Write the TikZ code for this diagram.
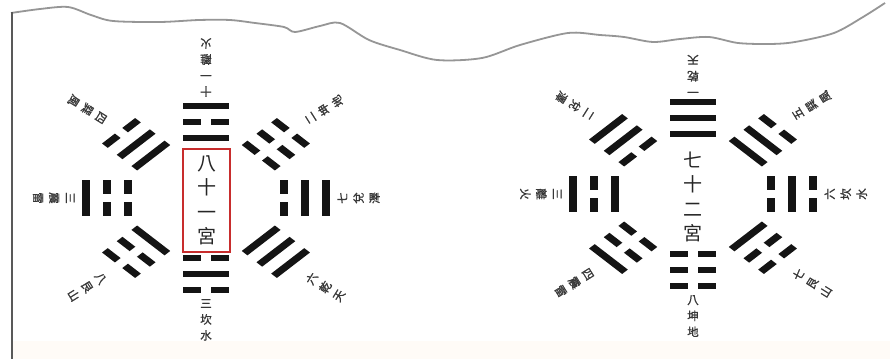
\documentclass[tikz,border=0pt]{standalone}
\usepackage{fontspec}
\newfontfamily\cjk{Noto Sans CJK TC}
\newfontfamily\cjkb[FakeBold=1.2]{Noto Sans CJK TC}
\definecolor{barc}{RGB}{20,20,20}
\definecolor{labc}{RGB}{55,55,55}
\definecolor{wavec}{RGB}{150,150,150}
\definecolor{boxred}{RGB}{200,45,45}
\newcommand\tbar[2]{%
  \ifnum#2=1
    \fill[barc] (-18,#1-3.1) -- (18,#1-3.1) -- (18,#1+3.1) -- (-18,#1+3.1) -- cycle;
  \else
    \fill[barc] (-18,#1-3.1) -- (-4,#1-3.1) -- (-4,#1+3.1) -- (-18,#1+3.1) -- cycle;
    \fill[barc] (4,#1-3.1) -- (18,#1-3.1) -- (18,#1+3.1) -- (4,#1+3.1) -- cycle;
  \fi}
\newcommand\trig[4]{\begin{scope}[rotate=#1-90]\tbar{92}{#2}\tbar{76}{#3}\tbar{60}{#4}\end{scope}}
% #1 angle, #2 text rotation, #3 text, #4 name, #5 radius
\newcommand\lab[5]{\node[lbl, rotate=#2, anchor=north] (#4) at (#1:#5) {#3};}
\begin{document}
\begin{tikzpicture}[x=1pt,y=1pt,
  lbl/.style={font=\cjkb\fontsize{11.5}{16}\selectfont, text=labc, inner sep=0pt, align=center},
  ctr/.style={font=\cjk\fontsize{19}{24.5}\selectfont, text=black!85, align=center, inner sep=0pt}]
\useasboundingbox (0,0) rectangle (890,359);
\fill[white] (0,0) rectangle (890,359);
\fill[orange!3] (12,0) rectangle (890,18);
% torn paper edge
\draw[wavec, line width=1.8pt, line join=round] plot[smooth, tension=0.5] coordinates {
 (11,346) (40,350) (68,352) (91,344) (113,338) (160,337) (199,339) (230,339) (255,336)
 (284,332) (295,327) (320,333) (340,336) (369,319) (400,309) (437,299) (482,301)
 (520,314) (568,326) (600,324) (624,322) (653,317) (680,320) (709,322) (738,316)
 (770,315) (795,317) (834,326) (863,342) (885,356)};
% left border
\draw[black!65, line width=2pt] (12,347) -- (12,0);

% ---------- left bagua (King Wen) ----------
\begin{scope}[shift={(206,161)}, xscale=1.3]
  \trig{90}{1}{0}{1}
  \trig{45}{0}{0}{0}
  \trig{0}{1}{1}{0}
  \trig{-45}{1}{1}{1}
  \trig{-90}{0}{1}{0}
  \trig{-135}{0}{0}{1}
  \trig{180}{1}{0}{0}
  \trig{135}{0}{1}{1}
  \lab{90}{180}{十\\一\\離\\火}{l1}{101}
  \lab{45}{122}{二\\坤\\地}{l2}{110}
  \lab{0}{90}{七\\兌\\澤}{l3}{101}
  \lab{-45}{58}{六\\乾\\天}{l4}{110}
  \lab{-90}{0}{三\\坎\\水}{l5}{101}
  \lab{-135}{-58}{八\\艮\\山}{l6}{110}
  \lab{180}{270}{三\\震\\雷}{l7}{101}
  \lab{135}{238}{四\\巽\\風}{l8}{110}
\end{scope}
\node[ctr, draw=boxred, line width=1.3pt, minimum width=47, minimum height=103] (c1) at (206.5,158.5) {八\\十\\一\\宮};

% ---------- right bagua (Fu Xi) ----------
\begin{scope}[shift={(693,165)}, xscale=1.3]
  \trig{90}{1}{1}{1}
  \trig{135}{1}{1}{0}
  \trig{180}{1}{0}{1}
  \trig{-135}{1}{0}{0}
  \trig{-90}{0}{0}{0}
  \trig{-45}{0}{0}{1}
  \trig{0}{0}{1}{0}
  \trig{45}{0}{1}{1}
  \lab{90}{180}{一\\乾\\天}{r1}{101}
  \lab{135}{238}{二\\兌\\澤}{r2}{110}
  \lab{180}{270}{三\\離\\火}{r3}{101}
  \lab{-135}{-58}{四\\震\\雷}{r4}{110}
  \lab{-90}{0}{八\\坤\\地}{r5}{101}
  \lab{-45}{58}{七\\艮\\山}{r6}{110}
  \lab{0}{90}{六\\坎\\水}{r7}{101}
  \lab{45}{122}{五\\巽\\風}{r8}{110}
\end{scope}
\node[ctr] (c2) at (693,162) {七\\十\\二\\宮};
\end{tikzpicture}
\end{document}
